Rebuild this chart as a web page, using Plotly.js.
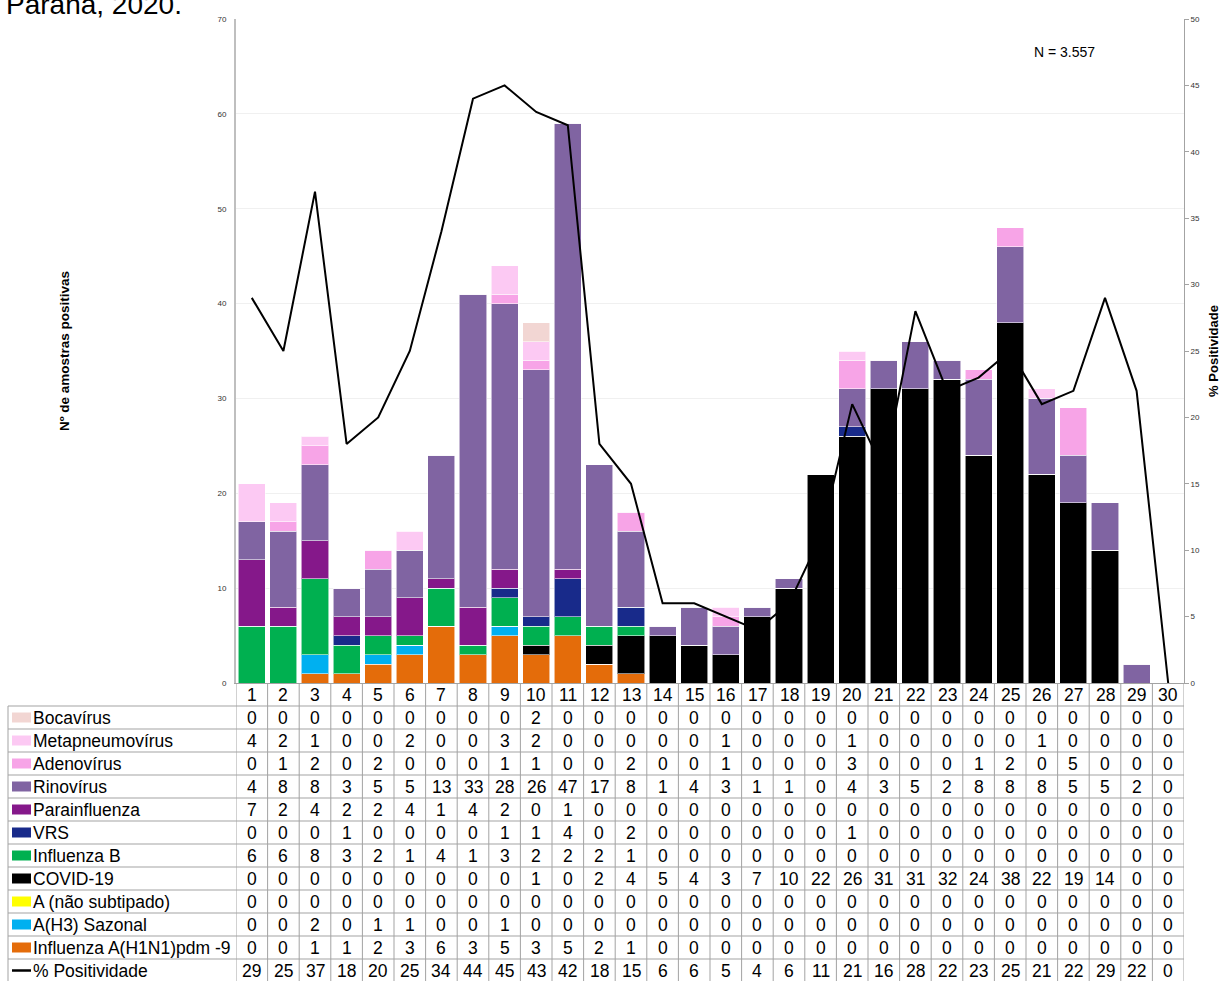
<!DOCTYPE html>
<html>
<head>
<meta charset="utf-8">
<script src="https://cdn.plot.ly/plotly-3.0.1.min.js"></script>
<style>html,body{margin:0;padding:0;background:#fff;}#chart{width:1223px;height:981px;}</style>
</head>
<body>
<div id="chart"></div>
<script>
// ---- DATA ----
const weeks = [1,2,3,4,5,6,7,8,9,10,11,12,13,14,15,16,17,18,19,20,21,22,23,24,25,26,27,28,29,30];
const bocavirus      = [0,0,0,0,0,0,0,0,0,2,0,0,0,0,0,0,0,0,0,0,0,0,0,0,0,0,0,0,0,0];
const metapneumovirus= [4,2,1,0,0,2,0,0,3,2,0,0,0,0,0,1,0,0,0,1,0,0,0,0,0,1,0,0,0,0];
const adenovirus     = [0,1,2,0,2,0,0,0,1,1,0,0,2,0,0,1,0,0,0,3,0,0,0,1,2,0,5,0,0,0];
const rinovirus      = [4,8,8,3,5,5,13,33,28,26,47,17,8,1,4,3,1,1,0,4,3,5,2,8,8,8,5,5,2,0];
const parainfluenza  = [7,2,4,2,2,4,1,4,2,0,1,0,0,0,0,0,0,0,0,0,0,0,0,0,0,0,0,0,0,0];
const vrs            = [0,0,0,1,0,0,0,0,1,1,4,0,2,0,0,0,0,0,0,1,0,0,0,0,0,0,0,0,0,0];
const influenzaB     = [6,6,8,3,2,1,4,1,3,2,2,2,1,0,0,0,0,0,0,0,0,0,0,0,0,0,0,0,0,0];
const covid19        = [0,0,0,0,0,0,0,0,0,1,0,2,4,5,4,3,7,10,22,26,31,31,32,24,38,22,19,14,0,0];
const aNaoSubtipado  = [0,0,0,0,0,0,0,0,0,0,0,0,0,0,0,0,0,0,0,0,0,0,0,0,0,0,0,0,0,0];
const aH3Sazonal     = [0,0,2,0,1,1,0,0,1,0,0,0,0,0,0,0,0,0,0,0,0,0,0,0,0,0,0,0,0,0];
const h1n1pdm        = [0,0,1,1,2,3,6,3,5,3,5,2,1,0,0,0,0,0,0,0,0,0,0,0,0,0,0,0,0,0];
const positividade   = [29,25,37,18,20,25,34,44,45,43,42,18,15,6,6,5,4,6,11,21,16,28,22,23,25,21,22,29,22,0];

const seriesNames = ["Bocavírus","Metapneumovírus","Adenovírus","Rinovírus","Parainfluenza","VRS","Influenza B","COVID-19","A (não subtipado)","A(H3) Sazonal","Influenza A(H1N1)pdm -9"];
const seriesValues = [bocavirus,metapneumovirus,adenovirus,rinovirus,parainfluenza,vrs,influenzaB,covid19,aNaoSubtipado,aH3Sazonal,h1n1pdm];
const lineName = "% Positividade";
const titleText = "Paraná, 2020.";
const nText = "N = 3.557";
const yTitle = "Nº de amostras positivas";
const y2Title = "% Positividade";

// ---- STYLES ----
const colors = ["#f2d6d3","#fcc9f3","#f7a4e7","#8064a2","#85188a","#182a8a","#00b050","#000000","#ffff00","#00b0f0","#e46c0a"];
const FONT = "Liberation Sans, Arial, sans-serif";
const plotL = 236, plotR = 1184, plotT = 19, plotB = 683;
const px = v => (v - plotL) / (plotR - plotL);
const py = v => (plotB - v) / (plotB - plotT);
const rowH = 23, headerBottom = 706, tableLeft = 8, tableBottom = 982;
const gridCol = "#a3a3a3";
const tFont = {family: FONT, size: 17.5, color: "#000"};

const traces = [];
// stacked bars: bottom first
for (let i = seriesNames.length - 1; i >= 0; i--) {
  traces.push({
    type: "bar", name: seriesNames[i], x: weeks, y: seriesValues[i],
    marker: {color: colors[i], line: {color: "rgba(255,255,255,0.55)", width: 1}},
    showlegend: false, hoverinfo: "x+y+name"
  });
}
traces.push({
  type: "scatter", mode: "lines", name: lineName, x: weeks, y: positividade, yaxis: "y2",
  line: {color: "#000", width: 2}, showlegend: false
});

const annotations = [];
const shapes = [];
// header row week numbers
weeks.forEach(w => annotations.push({x: w, xref: "x", y: py((plotB + headerBottom) / 2), yref: "paper",
  text: String(w), showarrow: false, font: tFont, xanchor: "center", yanchor: "middle"}));
// rows
const rows = seriesNames.map((n, i) => ({name: n, vals: seriesValues[i], color: colors[i], line: false}));
rows.push({name: lineName, vals: positividade, color: "#000", line: true});
rows.forEach((r, i) => {
  const top = headerBottom + i * rowH, cy = top + rowH / 2;
  annotations.push({x: px(31), xref: "paper", y: py(cy), yref: "paper", text: r.name, showarrow: false,
    font: tFont, xanchor: "left", yanchor: "middle"});
  if (r.line) {
    shapes.push({type: "line", xref: "paper", yref: "paper", x0: px(12), x1: px(31), y0: py(cy), y1: py(cy),
      line: {color: "#000", width: 2.5}});
  } else {
    shapes.push({type: "rect", xref: "paper", yref: "paper", x0: px(12), x1: px(31), y0: py(cy - 5), y1: py(cy + 5),
      fillcolor: r.color, line: {width: 0}});
  }
  r.vals.forEach((v, j) => annotations.push({x: weeks[j], xref: "x", y: py(cy), yref: "paper", text: String(v),
    showarrow: false, font: tFont, xanchor: "center", yanchor: "middle"}));
});
// grid lines
for (let k = 0; k <= rows.length; k++) {
  const y = headerBottom + k * rowH;
  shapes.push({type: "line", xref: "paper", yref: "paper", x0: px(tableLeft), x1: px(plotR), y0: py(y), y1: py(y),
    line: {color: gridCol, width: 1}});
}
shapes.push({type: "line", xref: "paper", yref: "paper", x0: px(tableLeft), x1: px(tableLeft), y0: py(headerBottom), y1: py(tableBottom),
  line: {color: gridCol, width: 1}});
for (let k = 0; k <= weeks.length; k++) {
  shapes.push({type: "line", xref: "x", yref: "paper", x0: k + 0.5, x1: k + 0.5, y0: 0, y1: py(tableBottom),
    line: {color: gridCol, width: 1}});
}
// title & N
annotations.push({x: px(184), xref: "paper", y: py(5), yref: "paper", text: titleText, showarrow: false,
  font: {family: FONT, size: 28, color: "#000"}, xanchor: "right", yanchor: "middle"});
annotations.push({x: 0.874, xref: "paper", y: 0.951, yref: "paper", text: nText, showarrow: false,
  font: {family: FONT, size: 14, color: "#000"}, xanchor: "center", yanchor: "middle"});

const layout = {
  width: 1223, height: 981,
  margin: {l: plotL, r: 1223 - plotR, t: plotT, b: 981 - plotB, pad: 0},
  paper_bgcolor: "#fff", plot_bgcolor: "#fff",
  barmode: "stack", bargap: 0.145,
  font: {family: FONT},
  xaxis: {range: [0.5, 30.5], showticklabels: false, ticks: "", showgrid: false, zeroline: false,
    showline: true, linecolor: gridCol, linewidth: 1},
  yaxis: {range: [0, 70], dtick: 10, showgrid: true, gridcolor: "#f0f0f0", gridwidth: 1, zeroline: false,
    showline: true, linecolor: "#bfbfbf", linewidth: 2, ticks: "", ticklabelstandoff: 6,
    tickfont: {family: FONT, size: 8, color: "#333"},
    title: {text: yTitle, font: {family: FONT, size: 13.5, color: "#000", weight: "bold"}, standoff: 145}},
  yaxis2: {range: [0, 50], dtick: 5, overlaying: "y", side: "right", showgrid: false, zeroline: false,
    showline: true, linecolor: gridCol, linewidth: 1, ticks: "outside", ticklen: 4, tickcolor: gridCol,
    tickfont: {family: FONT, size: 8, color: "#333"},
    title: {text: y2Title, font: {family: FONT, size: 13, color: "#000", weight: "bold"}, standoff: 9}},
  annotations: annotations, shapes: shapes
};
Plotly.newPlot("chart", traces, layout, {displayModeBar: false, staticPlot: false});
</script>
</body>
</html>
